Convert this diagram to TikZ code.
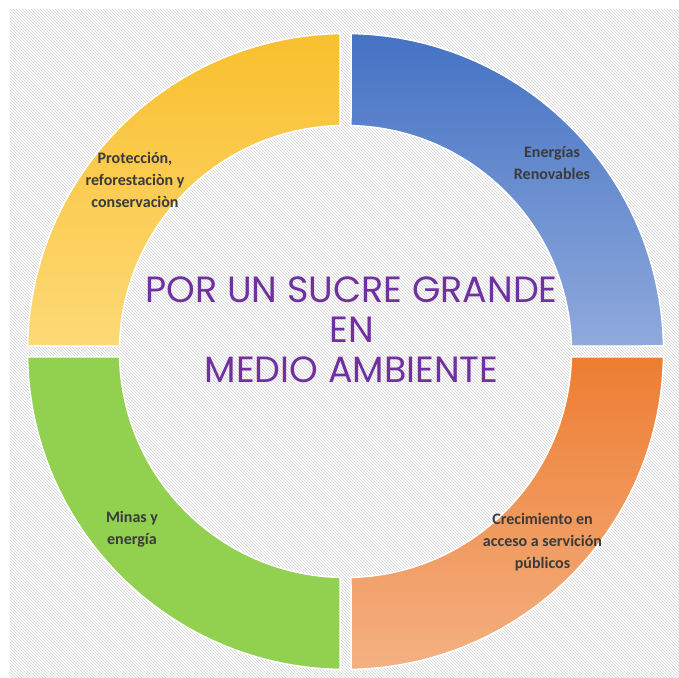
\documentclass[tikz,border=0pt]{standalone}
\usepackage{fontspec}
\newfontfamily\titlefont{Poppins}
\newfontfamily\labelfont{Carlito}
\usetikzlibrary{
  calc,     % 坐标计算
  patterns  % 背景斜线填充
}
\definecolor{amarilloA}{HTML}{F9C02E}
\definecolor{amarilloB}{HTML}{FDD977}
\definecolor{azulA}{HTML}{4472C4}
\definecolor{azulB}{HTML}{8FAADC}
\definecolor{naranjaA}{HTML}{ED7D31}
\definecolor{naranjaB}{HTML}{F4B183}
\definecolor{verde}{HTML}{92D050}
\definecolor{morado}{HTML}{7030A0}
\definecolor{textoGris}{HTML}{3A3A3A}

\begin{document}
\begin{tikzpicture}[x=1pt, y=1pt,
  segmento/.style={draw=white, line width=1.5pt},
  etiqueta/.style={font=\labelfont\bfseries\fontsize{16}{22}\selectfont, text=textoGris, align=center},
  titulo/.style={font=\titlefont\fontsize{36.5}{40}\selectfont, text=morado, align=center}] % 整体思路：斜线背景上画一个分成四块的圆环，中间放标题
  \useasboundingbox (0,0) rectangle (679,677); % 固定画面大小
  \fill[white] (0,0) rectangle (679,677); % 白色底
  \fill[pattern=north west lines, pattern color=gray!35] (10,0) rectangle (679,667); % 浅灰斜线背景

  \coordinate (C) at (345.5,325.5); % 圆环中心
  \def\Ro{318} % 外半径
  \def\Ri{226} % 内半径
  \pgfmathsetmacro{\a}{asin(5.5/\Ro)} % 外圆上的缝隙角
  \pgfmathsetmacro{\b}{asin(5.5/\Ri)} % 内圆上的缝隙角

  % 右上：蓝色
  \draw[segmento, top color=azulA, bottom color=azulB]
    ($(C)+(\a:\Ro)$) arc[start angle=\a, end angle=90-\a, radius=\Ro]
    -- ($(C)+(90-\b:\Ri)$) arc[start angle=90-\b, end angle=\b, radius=\Ri] -- cycle;
  % 左上：黄色
  \draw[segmento, top color=amarilloA, bottom color=amarilloB]
    ($(C)+(90+\a:\Ro)$) arc[start angle=90+\a, end angle=180-\a, radius=\Ro]
    -- ($(C)+(180-\b:\Ri)$) arc[start angle=180-\b, end angle=90+\b, radius=\Ri] -- cycle;
  % 左下：绿色
  \draw[segmento, fill=verde]
    ($(C)+(180+\a:\Ro)$) arc[start angle=180+\a, end angle=270-\a, radius=\Ro]
    -- ($(C)+(270-\b:\Ri)$) arc[start angle=270-\b, end angle=180+\b, radius=\Ri] -- cycle;
  % 右下：橙色
  \draw[segmento, top color=naranjaA, bottom color=naranjaB]
    ($(C)+(270+\a:\Ro)$) arc[start angle=270+\a, end angle=360-\a, radius=\Ro]
    -- ($(C)+(360-\b:\Ri)$) arc[start angle=360-\b, end angle=270+\b, radius=\Ri] -- cycle;

  % 各块文字
  \node[etiqueta] (proteccion) at (135,497) {Protección,\\reforestaciòn y\\conservaciòn};
  \node[etiqueta] (energias) at (552,514) {Energías\\Renovables};
  \node[etiqueta] (minas) at (132,148) {Minas y\\energía};
  \node[etiqueta] (crecimiento) at (542.5,135) {Crecimiento en\\acceso a servición\\públicos};

  % 中间标题
  \node[titulo] (lema) at (351.5,347) {POR UN SUCRE GRANDE\\EN\\MEDIO AMBIENTE};
\end{tikzpicture}
\end{document}
